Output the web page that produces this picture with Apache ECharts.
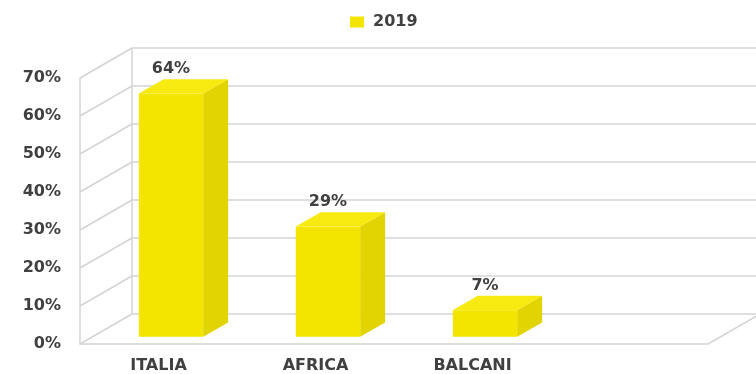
<!DOCTYPE html>
<html>
<head>
<meta charset="utf-8">
<script src="https://cdn.jsdelivr.net/npm/echarts@6/dist/echarts.min.js"></script>
<style>
html,body{margin:0;padding:0;background:#ffffff;}
#chart{width:756px;height:374px;}
</style>
</head>
<body>
<div id="chart"></div>
<script>
// ---- data ----
const categories = ['ITALIA', 'AFRICA', 'BALCANI', ''];
const seriesName = '2019';
const values2019 = [64, 29, 7];
const yTickValues = [0, 10, 20, 30, 40, 50, 60, 70];
const yTickLabelSuffix = '%';

// ---- style ----
const DEPTH_DX = 52, DEPTH_DY = -30;
const GRID_COLOR = '#d4d4d4';
const TEXT_COLOR = '#404040';
const FONT = 'DejaVu Sans';
const FS = 16;
const FRONT = '#f3e500', SIDE = '#e1d400', TOP = '#f7ea10';

const chart = echarts.init(document.getElementById('chart'));

function wallRender(params, api) {
  const cs = params.coordSys;
  const v = api.value(1);
  const y = api.coord([0, v])[1];
  const x0 = cs.x;
  const bx = x0 + DEPTH_DX, by = y + DEPTH_DY;
  const children = [
    {type: 'line', shape: {x1: x0, y1: y, x2: bx, y2: by}, style: {stroke: GRID_COLOR, lineWidth: 1.5}},
    {type: 'line', shape: {x1: bx, y1: by, x2: cs.x + cs.width + DEPTH_DX, y2: by}, style: {stroke: GRID_COLOR, lineWidth: 1.5}}
  ];
  if (params.dataIndex === 0) {
    const yTop = api.coord([0, yTickValues[yTickValues.length - 1]])[1] + DEPTH_DY;
    children.push({type: 'line', shape: {x1: bx, y1: by, x2: bx, y2: yTop}, style: {stroke: GRID_COLOR, lineWidth: 1.5}});
    const rx = cs.x + cs.width;
    children.push({type: 'line', shape: {x1: rx, y1: y, x2: rx + DEPTH_DX, y2: by}, style: {stroke: GRID_COLOR, lineWidth: 1.5}});
  }
  return {type: 'group', children: children};
}

function barRender(params, api) {
  const i = api.value(0), v = api.value(1);
  const base = api.coord([i, 0]);
  const top = api.coord([i, v]);
  const band = api.size([1, 0])[0];
  const w = band * 0.41;
  const ox = DEPTH_DX * 0.24, oy = DEPTH_DY * 0.24;
  const dx = DEPTH_DX * 0.48, dy = DEPTH_DY * 0.48;
  const x0 = base[0] - w / 2 + ox, x1 = x0 + w;
  const yb = base[1] + oy, yt = top[1] + oy;
  return {
    type: 'group',
    children: [
      {type: 'polygon', shape: {points: [[x1, yb], [x1 + dx, yb + dy], [x1 + dx, yt + dy], [x1, yt]]}, style: {fill: SIDE}},
      {type: 'polygon', shape: {points: [[x0, yt], [x1, yt], [x1 + dx, yt + dy], [x0 + dx, yt + dy]]}, style: {fill: TOP}},
      {type: 'rect', shape: {x: x0, y: yt, width: w, height: yb - yt}, style: {fill: FRONT}},
      {type: 'text', x: x0 + w / 2, y: yt + dy - 2,
        style: {text: v + '%', fill: TEXT_COLOR, font: 'bold ' + FS + 'px "' + FONT + '"', align: 'center', verticalAlign: 'bottom'}}
    ]
  };
}

chart.setOption({
  animation: false,
  backgroundColor: '#ffffff',
  legend: {
    data: [{name: seriesName, icon: 'rect'}],
    left: 350, top: 14, padding: 0,
    itemWidth: 14, itemHeight: 11, itemGap: 10,
    textStyle: {color: TEXT_COLOR, fontSize: FS, fontWeight: 'bold', fontFamily: FONT, padding: [0, 0, 0, 4]}
  },
  grid: {left: 80, right: 48, top: 78, bottom: 30, containLabel: false},
  xAxis: {
    type: 'category',
    data: categories,
    boundaryGap: true,
    axisLine: {show: true, lineStyle: {color: GRID_COLOR, width: 1.5}},
    axisTick: {show: false},
    axisLabel: {color: TEXT_COLOR, fontSize: FS, fontWeight: 'bold', fontFamily: FONT, margin: 14},
    splitLine: {show: false}
  },
  yAxis: {
    type: 'value',
    min: yTickValues[0], max: yTickValues[yTickValues.length - 1], interval: yTickValues[1] - yTickValues[0],
    axisLine: {show: true, lineStyle: {color: GRID_COLOR, width: 1.5}},
    axisTick: {show: false},
    axisLabel: {color: TEXT_COLOR, fontSize: FS, fontWeight: 'bold', fontFamily: FONT, margin: 19,
      formatter: function (v) { return v + yTickLabelSuffix; }},
    splitLine: {show: false}
  },
  series: [
    {
      type: 'custom', name: 'walls', silent: true, z: 1,
      encode: {x: 0, y: 1},
      data: yTickValues.map(function (v) { return [0, v]; }),
      renderItem: wallRender
    },
    {
      type: 'custom', name: seriesName, z: 5,
      itemStyle: {color: FRONT},
      encode: {x: 0, y: 1},
      data: values2019.map(function (v, i) { return [i, v]; }),
      renderItem: barRender
    }
  ]
});
</script>
</body>
</html>
